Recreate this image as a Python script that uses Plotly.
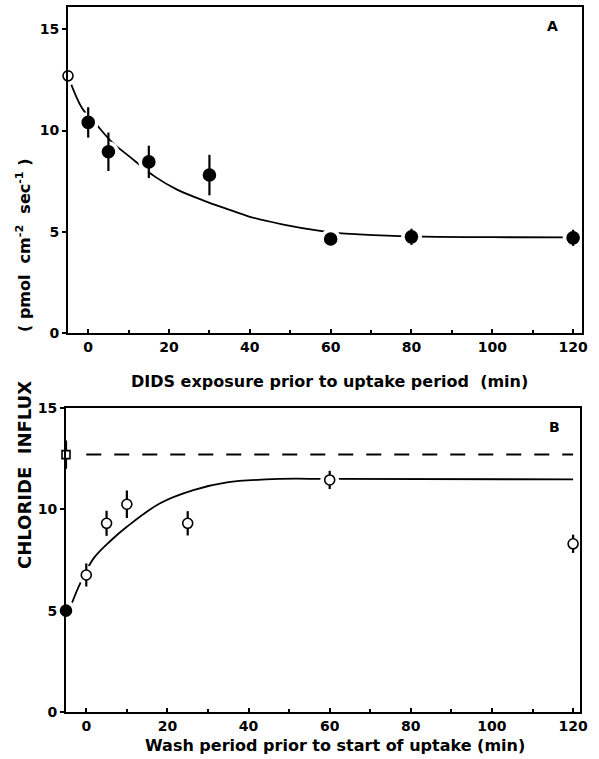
import plotly.graph_objects as go

# ---------------- Panel A data ----------------
a_ctrl_x = [-5]
a_ctrl_y = [12.7]
a_x = [0, 5, 15, 30, 60, 80, 120]
a_y = [10.4, 8.95, 8.45, 7.8, 4.64, 4.75, 4.7]
a_err = [0.75, 0.95, 0.8, 1.0, 0.3, 0.4, 0.4]
a_curve_x = [-5, -1.5, 2, 6, 10, 16.6, 22, 29.4, 35, 40, 48, 57.8, 62, 67, 80, 100, 120]
a_curve_y = [12.7, 11.1, 10.3, 9.4, 8.75, 7.71, 7.08, 6.48, 6.08, 5.74, 5.37, 5.03, 4.93,
             4.87, 4.77, 4.73, 4.72]

# ---------------- Panel B data ----------------
b_ctrl_x = [-5]
b_ctrl_y = [12.7]
b_ctrl_err = [0.7]
b_ddis_x = [-5]
b_ddis_y = [5.0]
b_x = [0, 5, 10, 25, 60, 120]
b_y = [6.76, 9.31, 10.25, 9.31, 11.45, 8.3]
b_err = [0.57, 0.62, 0.68, 0.6, 0.45, 0.45]
b_curve_x = [-3.5, -1.5, 1.8, 6, 10, 18.2, 26.4, 34.7, 47.8, 60, 120]
b_curve_y = [5.4, 6.35, 7.58, 8.45, 9.14, 10.3, 10.95, 11.33, 11.5, 11.5, 11.48]
b_dash_x = [0, 120]
b_dash_y = [12.7, 12.7]

x_ticks = [0, 20, 40, 60, 80, 100, 120]
a_y_ticks = [0, 5, 10, 15]
b_y_ticks = [0, 5, 10, 15]

FONT = "DejaVu Sans"
W, H = 599, 759

fig = go.Figure()

def add_panel(xa, ya, curve_x, curve_y, pts):
    fig.add_trace(go.Scatter(x=curve_x, y=curve_y, mode="lines", xaxis=xa, yaxis=ya,
                             line=dict(color="black", width=1.8, shape="spline", smoothing=1.0),
                             hoverinfo="skip", cliponaxis=False))
    for (px, py, err, sym, fill, size) in pts:
        fig.add_trace(go.Scatter(x=px, y=py, mode="markers", xaxis=xa, yaxis=ya,
                                 marker=dict(symbol=sym, size=size + 9, color="white",
                                             line=dict(width=0)),
                                 hoverinfo="skip", cliponaxis=False))
    for (px, py, err, sym, fill, size) in pts:
        fig.add_trace(go.Scatter(
            x=px, y=py, mode="markers", xaxis=xa, yaxis=ya, cliponaxis=False,
            error_y=dict(type="data", array=err if err is not None else [0],
                         visible=err is not None,
                         color="black", thickness=2.2, width=0),
            marker=dict(symbol=sym, size=size, color=fill,
                        line=dict(color="black", width=1.6))))

add_panel("x", "y", a_curve_x, a_curve_y, [
    (a_ctrl_x, a_ctrl_y, None, "circle", "white", 10),
    (a_x, a_y, a_err, "circle", "black", 12),
])

fig.add_trace(go.Scatter(x=b_dash_x, y=b_dash_y, mode="lines", xaxis="x2", yaxis="y2",
                         line=dict(color="black", width=2, dash="15px,13px"),
                         hoverinfo="skip"))
add_panel("x2", "y2", b_curve_x, b_curve_y, [
    (b_ddis_x, b_ddis_y, None, "circle", "black", 11),
    (b_ctrl_x, b_ctrl_y, b_ctrl_err, "square", "white", 8),
    (b_x, b_y, b_err, "circle", "white", 10),
])

def xax(domain, rng, anchor):
    return dict(domain=domain, range=rng, anchor=anchor, tickvals=x_ticks,
                automargin=False,
                showline=True, linecolor="black", linewidth=2, mirror=True,
                ticks="inside", ticklen=4, tickwidth=2, tickcolor="black",
                minor=dict(dtick=10, tick0=0, ticks="inside", ticklen=3, tickwidth=1.5,
                           tickcolor="black"),
                showgrid=False, zeroline=False,
                tickfont=dict(family=FONT, size=14, color="black", weight="bold"))

def yax(domain, rng, ticks, anchor):
    return dict(domain=domain, range=rng, anchor=anchor, tickvals=ticks,
                automargin=False,
                showline=True, linecolor="black", linewidth=2, mirror=True,
                ticks="outside", ticklen=4, tickwidth=2, tickcolor="black",
                showgrid=False, zeroline=False,
                tickfont=dict(family=FONT, size=14, color="black", weight="bold"))

def label(text, x, y, size, angle=0):
    return dict(text=text, xref="paper", yref="paper", x=x / W, y=1 - y / H,
                xanchor="center", yanchor="middle", textangle=angle, showarrow=False,
                font=dict(family=FONT, size=size, color="black", weight="bold"))

fig.update_layout(
    width=W, height=H, margin=dict(l=0, r=0, t=0, b=0, autoexpand=False),
    paper_bgcolor="white", plot_bgcolor="white", showlegend=False,
    xaxis=xax([68 / W, 582 / W], [-5, 122.2], "y"),
    yaxis=yax([1 - 333 / H, 1 - 7 / H], [0, 16.1], a_y_ticks, "x"),
    xaxis2=xax([66 / W, 580 / W], [-5, 121.7], "y2"),
    yaxis2=yax([1 - 712 / H, 1 - 408 / H], [0, 15], b_y_ticks, "x2"),
    annotations=[
        label("A", 552, 26, 14),
        label("B", 554, 427, 14),
        label("DIDS exposure prior to uptake period  (min)", 329, 381, 16),
        label("Wash period prior to start of uptake (min)", 335, 745, 16),
        label("( pmol  cm<sup>-2</sup>  sec<sup>-1</sup> )", 23, 245, 16, -90),
        label("CHLORIDE  INFLUX", 24, 475, 18, -90),
    ],
)

fig.write_html("out.html")
